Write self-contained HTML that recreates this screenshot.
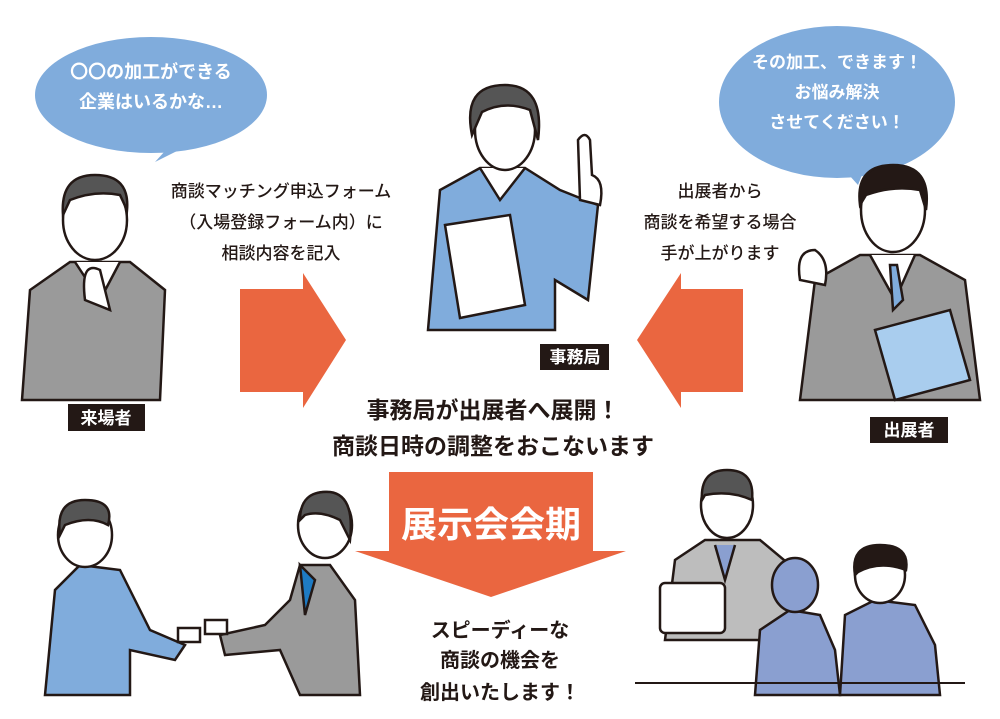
<!DOCTYPE html>
<html><head><meta charset="utf-8"><style>
html,body{margin:0;padding:0;background:#fff;}
svg{display:block}
text{font-family:"Liberation Sans","Noto Sans CJK JP",sans-serif;}
</style></head><body>
<svg width="1000" height="719" viewBox="0 0 1000 719" xmlns="http://www.w3.org/2000/svg">
<ellipse cx="151" cy="95" rx="116" ry="58" fill="#80acdc"/>
<path d="M175 140 L155 162 L195 142 Z" fill="#80acdc"/>
<text x="151" y="78" font-size="18" fill="#fff" text-anchor="middle" font-weight="bold">〇〇の加工ができる</text>
<text x="151" y="108" font-size="18" fill="#fff" text-anchor="middle" font-weight="bold">企業はいるかな…</text>
<ellipse cx="837" cy="102" rx="118" ry="76" fill="#80acdc"/>
<path d="M840 165 L858 185 L868 160 Z" fill="#80acdc"/>
<text x="837" y="68" font-size="17" fill="#fff" text-anchor="middle" font-weight="bold">その加工、できます！</text>
<text x="837" y="98" font-size="17" fill="#fff" text-anchor="middle" font-weight="bold">お悩み解決</text>
<text x="837" y="128" font-size="17" fill="#fff" text-anchor="middle" font-weight="bold">させてください！</text>

<g font-size="17" fill="#231815" text-anchor="middle" font-weight="500">
<text x="281" y="197">商談マッチング申込フォーム</text>
<text x="281" y="228">（入場登録フォーム内）に</text>
<text x="281" y="259">相談内容を記入</text>
<text x="720" y="197">出展者から</text>
<text x="720" y="228">商談を希望する場合</text>
<text x="720" y="259">手が上がります</text>
</g>

<polygon points="240,289 303,289 303,273 346,340 303,408 303,392 240,392" fill="#ea6640"/>
<polygon points="743,289 681,289 681,273 637,340 681,408 681,392 743,392" fill="#ea6640"/>
<polygon points="389,472 593,472 593,551 626,551 491,597 355,551 389,551" fill="#ea6640"/>
<text x="491" y="537" font-size="36" font-weight="bold" fill="#fff" text-anchor="middle">展示会会期</text>

<text x="493" y="418" font-size="23" font-weight="bold" fill="#231815" text-anchor="middle">事務局が出展者へ展開！</text>
<text x="493" y="454" font-size="23" font-weight="bold" fill="#231815" text-anchor="middle">商談日時の調整をおこないます</text>
<text x="500" y="637" font-size="20" font-weight="bold" fill="#231815" text-anchor="middle">スピーディーな</text>
<text x="500" y="667" font-size="20" font-weight="bold" fill="#231815" text-anchor="middle">商談の機会を</text>
<text x="500" y="699" font-size="20" font-weight="bold" fill="#231815" text-anchor="middle">創出いたします！</text>

<g stroke="#231815" stroke-width="2.5">
<path d="M22 400 L30 290 L70 262 L130 262 L165 290 L160 400 Z" fill="#9a9a9a"/>
<path d="M75 262 L100 300 L120 262" fill="#fff"/>
<ellipse cx="95" cy="220" rx="32" ry="40" fill="#fff"/>
<path d="M63 215 Q60 175 95 175 Q130 175 127 210 L120 195 Q95 190 70 200 Z" fill="#555"/>
<path d="M85 300 Q80 260 100 270 L110 310 Z" fill="#fff"/>
</g>
<rect x="68" y="404" width="77" height="27" fill="#231815"/>
<text x="106" y="424" font-size="17" font-weight="bold" fill="#fff" text-anchor="middle">来場者</text>

<g stroke="#231815" stroke-width="2.5">
<path d="M428 330 L440 190 L480 168 L525 168 L560 190 L585 200 L598 205 L588 300 L555 280 L555 330 Z" fill="#80acdc"/>
<path d="M480 168 L500 200 L525 168" fill="#fff"/>
<ellipse cx="505" cy="130" rx="30" ry="40" fill="#fff"/>
<path d="M472 135 Q462 85 505 85 Q545 85 538 140 L530 110 Q505 100 482 112 Z" fill="#555"/>
<path d="M445 225 L510 215 L525 305 L460 318 Z" fill="#fff"/>
<path d="M580 200 L578 140 Q585 130 590 140 L592 175 Q605 180 600 205 Z" fill="#fff"/>
</g>
<rect x="540" y="344" width="69" height="26" fill="#231815"/>
<text x="575" y="363" font-size="17" font-weight="bold" fill="#fff" text-anchor="middle">事務局</text>

<g stroke="#231815" stroke-width="2.5">
<path d="M800 400 L815 280 L860 255 L920 255 L965 280 L980 400 Z" fill="#9a9a9a"/>
<path d="M870 255 L895 300 L915 255" fill="#fff"/>
<path d="M890 265 L897 265 L903 300 L893 310 Z" fill="#80acdc"/>
<ellipse cx="893" cy="210" rx="32" ry="42" fill="#fff"/>
<path d="M860 205 Q855 165 893 165 Q932 165 926 210 L920 190 Q893 185 866 195 Z" fill="#231815"/>
<path d="M875 330 L950 310 L970 380 L895 400 Z" fill="#a9cdee"/>
<path d="M800 280 Q795 250 815 250 Q830 260 825 285 Z" fill="#fff"/>
</g>
<rect x="870" y="417" width="78" height="26" fill="#231815"/>
<text x="909" y="436" font-size="17" font-weight="bold" fill="#fff" text-anchor="middle">出展者</text>

<g stroke="#231815" stroke-width="2.5">
<path d="M45 695 L55 590 L80 565 L120 570 L150 630 L185 645 L175 660 L130 650 L130 695 Z" fill="#80acdc"/>
<ellipse cx="85" cy="535" rx="27" ry="32" fill="#fff"/>
<path d="M60 535 Q55 500 85 500 Q115 500 108 525 Q90 515 65 525 Z" fill="#555"/>
<path d="M360 695 L355 600 L330 565 L300 565 L290 600 L265 625 L220 635 L225 655 L280 650 L300 695 Z" fill="#9a9a9a"/>
<path d="M300 565 L315 580 L305 615 Z" fill="#1e7bc4"/>
<ellipse cx="325" cy="525" rx="27" ry="33" fill="#fff"/>
<path d="M300 520 Q300 490 330 492 Q355 495 350 540 L340 520 Q320 510 305 515 Z" fill="#555"/>
<rect x="178" y="628" width="22" height="14" fill="#fff"/>
<rect x="205" y="620" width="22" height="14" fill="#fff"/>
</g>

<g stroke="#231815" stroke-width="2.5">
<path d="M665 640 L675 560 L705 540 L760 540 L790 565 L800 640 Z" fill="#bdbdbd"/>
<path d="M715 545 L725 580 L735 545" fill="#8a9fd0"/>
<ellipse cx="727" cy="505" rx="26" ry="33" fill="#fff"/>
<path d="M702 500 Q700 470 727 470 Q755 470 752 500 Q730 490 705 495 Z" fill="#555"/>
<rect x="660" y="583" width="65" height="50" rx="5" fill="#fff"/>
<path d="M755 695 L760 630 L790 610 L820 615 L835 650 L840 695 Z" fill="#8a9fd0"/>
<ellipse cx="795" cy="585" rx="23" ry="27" fill="#8a9fd0"/>
<path d="M840 695 L845 615 L875 600 L915 605 L935 645 L940 695 Z" fill="#8a9fd0"/>
<ellipse cx="880" cy="575" rx="25" ry="28" fill="#fff"/>
<path d="M855 575 Q850 545 880 545 Q910 545 906 570 Q880 560 858 572 Z" fill="#231815"/>
</g>
<line x1="635" y1="683" x2="965" y2="683" stroke="#231815" stroke-width="2"/>
</svg>
</body></html>
